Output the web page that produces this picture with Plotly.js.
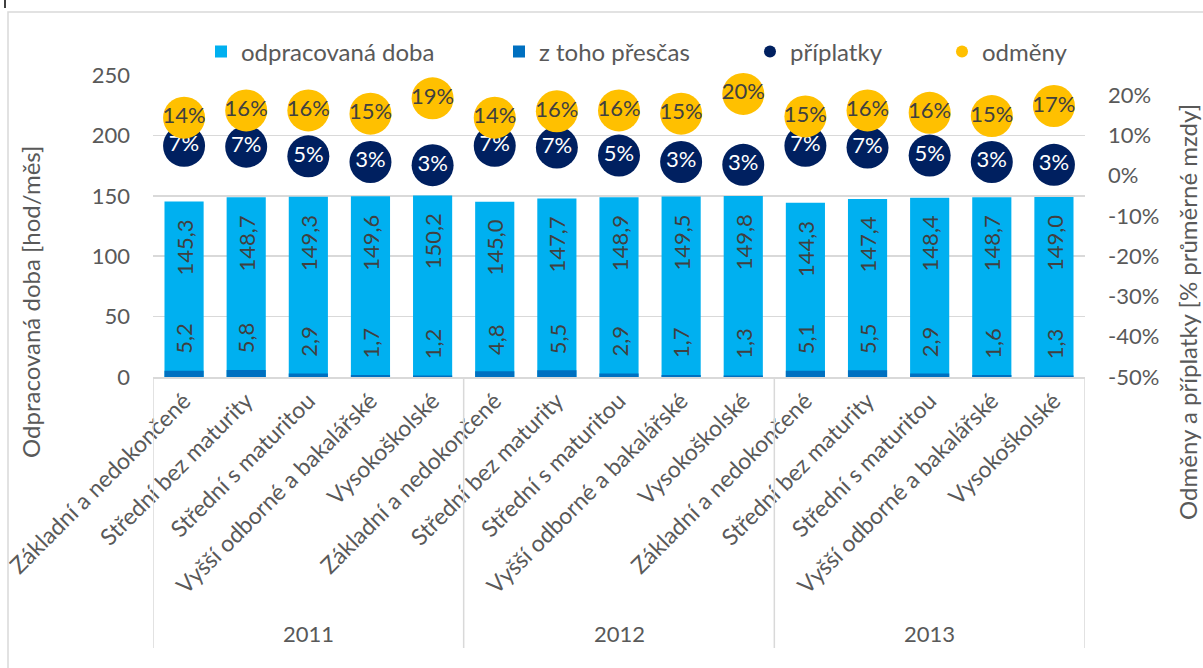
<!DOCTYPE html>
<html><head><meta charset="utf-8">
<script src="https://cdn.plot.ly/plotly-3.0.1.min.js"></script>
<style>html,body{margin:0;padding:0;background:#fff}#chart{width:1203px;height:668px}</style>
</head><body><div id="chart"></div>
<script>
const years = ['2011', '2012', '2013'];
const categories = ['Základní a nedokončené', 'Střední bez maturity', 'Střední s maturitou', 'Vyšší odborné a bakalářské', 'Vysokoškolské'];
const hours = [145.3, 148.7, 149.3, 149.6, 150.2, 145.0, 147.7, 148.9, 149.5, 149.8, 144.3, 147.4, 148.4, 148.7, 149.0];
const overtime = [5.2, 5.8, 2.9, 1.7, 1.2, 4.8, 5.5, 2.9, 1.7, 1.3, 5.1, 5.5, 2.9, 1.6, 1.3];
const allowances = [7.4, 7.2, 4.8, 3.4, 2.6, 7.4, 7.0, 5.0, 3.4, 2.7, 7.4, 7.0, 5.0, 3.4, 2.7];
const bonuses = [14.4, 16.2, 16.2, 15.4, 19.2, 14.4, 16.0, 16.2, 15.4, 20.3, 14.7, 16.2, 15.6, 14.8, 17.3];
const leftTicks = [0, 50, 100, 150, 200, 250];
const rightTicks = [-50, -40, -30, -20, -10, 0, 10, 20];
const seriesNames = ['odpracovaná doba', 'z toho přesčas', 'příplatky', 'odměny'];
const leftTitle = 'Odpracovaná doba [hod/měs]';
const rightTitle = 'Odměny a příplatky [% průměrné mzdy]';

const tickText = [];
years.forEach(() => categories.forEach(c => tickText.push(c)));
const xs = tickText.map((_, i) => i);
const nCat = categories.length;

const FONT = 'Lato, "Open Sans", sans-serif';
const GREY = '#595959';
const fmt = v => v.toFixed(1).replace('.', ',');

const L = 153, R = 1085, T = 75, B = 377;
const px = x => (x - L) / (R - L);
const py = y => (B - y) / (B - T);

const traces = [
  {type: 'bar', x: xs, y: hours, name: seriesNames[0], width: 0.63,
   marker: {color: '#00b0f0'}, legend: 'legend', hoverinfo: 'y'},
  {type: 'bar', x: xs, y: overtime, name: seriesNames[1], width: 0.63,
   marker: {color: '#0070c0'}, legend: 'legend2', hoverinfo: 'y'},
  {type: 'scatter', mode: 'markers+text', x: xs, y: allowances, yaxis: 'y2', name: seriesNames[2],
   marker: {size: 42, color: '#002060'}, texttemplate: '%{y:.0f}%', textposition: 'middle center',
   textfont: {family: FONT, size: 22, color: '#ffffff'}, legend: 'legend3', cliponaxis: false},
  {type: 'scatter', mode: 'markers+text', x: xs, y: bonuses, yaxis: 'y2', name: seriesNames[3],
   marker: {size: 42, color: '#ffc000'}, texttemplate: '%{y:.0f}%', textposition: 'middle center',
   textfont: {family: FONT, size: 22, color: '#404040'}, legend: 'legend4', cliponaxis: false}
];

const annotations = [];
xs.forEach(i => {
  annotations.push({x: i, y: hours[i], xref: 'x', yref: 'y', text: fmt(hours[i]), textangle: -90,
    showarrow: false, xanchor: 'center', yanchor: 'middle', yshift: -46,
    font: {family: FONT, size: 22, color: '#404040'}});
  annotations.push({x: i, y: overtime[i], xref: 'x', yref: 'y', text: fmt(overtime[i]), textangle: -90,
    showarrow: false, xanchor: 'center', yanchor: 'middle', yshift: 32,
    font: {family: FONT, size: 22, color: '#404040'}});
});
years.forEach((yr, g) => {
  annotations.push({x: g * nCat + (nCat - 1) / 2, y: py(633), xref: 'x', yref: 'paper', text: yr,
    showarrow: false, xanchor: 'center', yanchor: 'middle', font: {family: FONT, size: 22, color: GREY}});
});
annotations.push({x: px(30), y: py(302), xref: 'paper', yref: 'paper', text: leftTitle, textangle: -90,
  showarrow: false, xanchor: 'center', yanchor: 'middle', font: {family: FONT, size: 24, color: GREY}});
annotations.push({x: px(1187), y: py(312), xref: 'paper', yref: 'paper', text: rightTitle, textangle: -90,
  showarrow: false, xanchor: 'center', yanchor: 'middle', font: {family: FONT, size: 24, color: GREY}});

const shapes = [];
for (let g = 0; g <= years.length; g++) {
  shapes.push({type: 'line', xref: 'x', yref: 'paper', x0: g * nCat - 0.5, x1: g * nCat - 0.5,
    y0: 0, y1: py(648), line: {color: '#d9d9d9', width: 1.5}});
}
shapes.push({type: 'rect', xref: 'paper', yref: 'paper', x0: px(8), x1: px(1215), y0: py(12), y1: py(680),
  line: {color: '#d9d9d9', width: 1.5}, fillcolor: 'rgba(0,0,0,0)'});
shapes.push({type: 'line', xref: 'paper', yref: 'paper', x0: px(5), x1: px(5), y0: py(0), y1: py(8),
  line: {color: '#404040', width: 2}});

const legendBase = {orientation: 'h', yanchor: 'middle', xanchor: 'left', y: py(52),
  font: {family: FONT, size: 24, color: GREY}, bgcolor: 'rgba(0,0,0,0)', itemsizing: 'constant'};

const layout = {
  width: 1203, height: 668,
  margin: {l: L, r: 1203 - R, t: T, b: 668 - B},
  paper_bgcolor: '#ffffff', plot_bgcolor: '#ffffff',
  font: {family: FONT, size: 22, color: GREY},
  barmode: 'overlay',
  showlegend: true,
  legend: Object.assign({}, legendBase, {x: px(201)}),
  legend2: Object.assign({}, legendBase, {x: px(499)}),
  legend3: Object.assign({}, legendBase, {x: px(750)}),
  legend4: Object.assign({}, legendBase, {x: px(942)}),
  xaxis: {type: 'linear', range: [-0.5, xs.length - 0.5], tickvals: xs, ticktext: tickText,
    tickangle: -45, showgrid: false, zeroline: false, showline: true, linecolor: '#d9d9d9', linewidth: 1.5,
    ticks: '', tickfont: {family: FONT, size: 23, color: GREY}, fixedrange: true},
  yaxis: {range: [0, 250], tickvals: leftTicks, ticktext: leftTicks.map(String), showgrid: true, gridcolor: '#d9d9d9',
    gridwidth: 1.5, zeroline: false, showline: false, ticks: '', ticklabelstandoff: 22,
    tickfont: {family: FONT, size: 22, color: GREY}, fixedrange: true},
  yaxis2: {overlaying: 'y', side: 'right', range: [-50, 25], tickvals: rightTicks, ticktext: rightTicks.map(v => v + '%'),
    showgrid: false, zeroline: false, showline: false, ticks: '', ticklabelstandoff: 22,
    tickfont: {family: FONT, size: 22, color: GREY}, fixedrange: true},
  annotations: annotations,
  shapes: shapes
};

Plotly.newPlot('chart', traces, layout, {displayModeBar: false, staticPlot: true});
</script>
</body></html>
